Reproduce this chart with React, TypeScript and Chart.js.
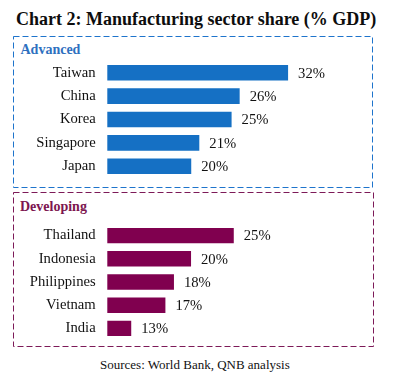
import React, { useEffect, useRef } from "react";
import { Chart, registerables } from "chart.js";

Chart.register(...registerables);

const titleText = "Chart 2: Manufacturing sector share (% GDP)";
const sourceText = "Sources: World Bank, QNB analysis";

const advancedLabel = "Advanced";
const advancedCountries = ["Taiwan", "China", "Korea", "Singapore", "Japan"];
const advancedValues = [32, 26, 25, 21, 20];

const developingLabel = "Developing";
const developingCountries = ["Thailand", "Indonesia", "Philippines", "Vietnam", "India"];
const developingValues = [25, 20, 18, 17, 13];

const SERIF = "'Liberation Serif', 'Times New Roman', serif";
const BLUE = "#1570C4";
const MAROON = "#80004F";

const valueLabelPlugin = {
  id: "valueLabels",
  afterDatasetsDraw(chart: any) {
    const ctx = chart.ctx;
    ctx.save();
    ctx.font = `14.67px ${SERIF}`;
    ctx.fillStyle = "#111111";
    ctx.textBaseline = "middle";
    ctx.textAlign = "left";
    chart.getDatasetMeta(0).data.forEach((bar: any, i: number) => {
      const v = chart.data.datasets[0].data[i];
      ctx.fillText(`${v}%`, bar.x + 10, bar.y + 1);
    });
    ctx.restore();
  },
};

function BarPanel(props: {
  labels: string[];
  values: number[];
  color: string;
  min: number;
  max: number;
  top: number;
  height: number;
  plotRight: number;
}) {
  const ref = useRef<HTMLCanvasElement>(null);
  useEffect(() => {
    if (!ref.current) return;
    const chart = new Chart(ref.current, {
      type: "bar",
      data: {
        labels: props.labels,
        datasets: [
          {
            data: props.values,
            backgroundColor: props.color,
            borderWidth: 0,
            categoryPercentage: 1,
            barPercentage: 0.665,
          },
        ],
      },
      options: {
        indexAxis: "y",
        responsive: false,
        animation: false,
        devicePixelRatio: 1,
        layout: { padding: { left: 0, top: 0, bottom: 0, right: 404 - props.plotRight } },
        plugins: { legend: { display: false }, tooltip: { enabled: false }, title: { display: false } },
        scales: {
          x: { display: false, min: props.min, max: props.max },
          y: {
            grid: { display: false, drawTicks: false },
            border: { display: false },
            ticks: {
              padding: 11.6,
              color: "#111111",
              font: { family: SERIF, size: 14.67 },
            },
            afterFit(scale: any) {
              scale.width = 107.3;
              scale.paddingTop = 0;
              scale.paddingBottom = 0;
            },
          },
        },
      },
      plugins: [valueLabelPlugin],
    } as any);
    return () => chart.destroy();
  }, []);
  return (
    <canvas
      ref={ref}
      width={404}
      height={props.height}
      style={{ position: "absolute", left: 0, top: props.top, width: 404, height: props.height }}
    />
  );
}

export default function App() {
  return (
    <div
      style={{
        position: "absolute",
        left: 0,
        top: 0,
        width: 404,
        height: 384,
        background: "#ffffff",
        overflow: "hidden",
      }}
    >
      <svg width={404} height={384} style={{ position: "absolute", left: 0, top: 0 }}>
        <rect x={13.5} y={36.5} width={359} height={151} fill="none" stroke="#1E74CC" strokeWidth={1} strokeDasharray="6 3" />
        <rect x={13.5} y={192.5} width={360} height={154} fill="none" stroke="#7D1A58" strokeWidth={1} strokeDasharray="6 3" />
      </svg>
      <div
        style={{
          position: "absolute",
          left: 16,
          top: 10,
          fontFamily: SERIF,
          fontWeight: "bold",
          fontSize: 18,
          lineHeight: "18px",
          color: "#0D0D0D",
          whiteSpace: "nowrap",
        }}
      >
        {titleText}
      </div>
      <div
        style={{
          position: "absolute",
          left: 20.5,
          top: 43.3,
          fontFamily: SERIF,
          fontWeight: "bold",
          fontSize: 14,
          lineHeight: "14px",
          color: "#2E70C0",
          whiteSpace: "nowrap",
        }}
      >
        {advancedLabel}
      </div>
      <div
        style={{
          position: "absolute",
          left: 20,
          top: 200,
          fontFamily: SERIF,
          fontWeight: "bold",
          fontSize: 14,
          lineHeight: "14px",
          color: "#7D1650",
          whiteSpace: "nowrap",
        }}
      >
        {developingLabel}
      </div>
      <BarPanel
        labels={advancedCountries}
        values={advancedValues}
        color={BLUE}
        min={9.6}
        max={35}
        top={61}
        height={117}
        plotRight={312.3}
      />
      <BarPanel
        labels={developingCountries}
        values={developingValues}
        color={MAROON}
        min={10.2}
        max={30}
        top={224}
        height={116}
        plotRight={276.5}
      />
      <div
        style={{
          position: "absolute",
          left: 100,
          top: 358.4,
          fontFamily: SERIF,
          fontSize: 13,
          lineHeight: "13px",
          color: "#111111",
          whiteSpace: "nowrap",
        }}
      >
        {sourceText}
      </div>
    </div>
  );
}
